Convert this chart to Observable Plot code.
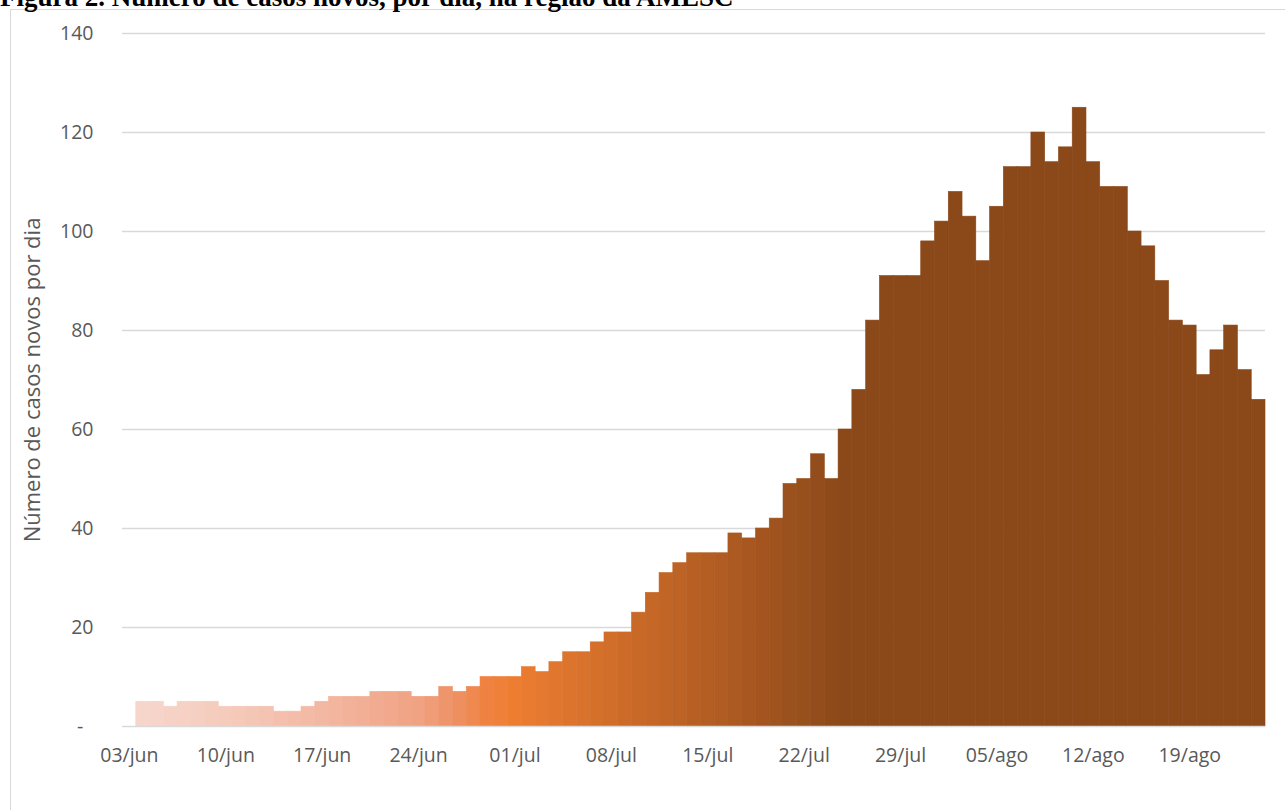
<!DOCTYPE html>
<html>
<head>
<meta charset="utf-8">
<script src="https://cdn.jsdelivr.net/npm/d3@7"></script>
<script src="https://cdn.jsdelivr.net/npm/@observablehq/plot@0.6"></script>
<style>
  html, body { margin: 0; padding: 0; background: #fff; }
  #wrap { position: relative; width: 1285px; height: 810px; overflow: hidden; background: #fff; }
  #title { position: absolute; left: 0px; top: -16px; font-family: "Liberation Serif", "Times New Roman", serif; font-weight: bold; font-size: 27px; line-height: 27px; white-space: nowrap; color: #000; }
  #chart { position: absolute; left: 0; top: 0; }
  #frame { position: absolute; left: 10px; top: 9px; width: 1400px; height: 900px; border: 1.5px solid #d9d9d9; box-sizing: border-box; pointer-events: none; }
</style>
</head>
<body>
<div id="wrap">
  <div id="chart"></div>
  <div id="frame"></div>
  <div id="title">Figura 2. Número de casos novos, por dia, na região da AMESC</div>
</div>
<script>
// Categories (one per day); the first day has no bar
const dates = [
  "03/jun","04/jun","05/jun","06/jun","07/jun","08/jun","09/jun","10/jun","11/jun","12/jun",
  "13/jun","14/jun","15/jun","16/jun","17/jun","18/jun","19/jun","20/jun","21/jun","22/jun",
  "23/jun","24/jun","25/jun","26/jun","27/jun","28/jun","29/jun","30/jun",
  "01/jul","02/jul","03/jul","04/jul","05/jul","06/jul","07/jul","08/jul","09/jul","10/jul",
  "11/jul","12/jul","13/jul","14/jul","15/jul","16/jul","17/jul","18/jul","19/jul","20/jul",
  "21/jul","22/jul","23/jul","24/jul","25/jul","26/jul","27/jul","28/jul","29/jul","30/jul","31/jul",
  "01/ago","02/ago","03/ago","04/ago","05/ago","06/ago","07/ago","08/ago","09/ago","10/ago",
  "11/ago","12/ago","13/ago","14/ago","15/ago","16/ago","17/ago","18/ago","19/ago","20/ago",
  "21/ago","22/ago","23/ago","24/ago"
];

// New cases per day
const cases = [
  null,
  5,5,4,5,5,5,4,4,4,4,
  3,3,4,5,6,6,6,7,7,7,
  6,6,8,7,8,10,10,10,12,11,
  13,15,15,17,19,19,23,27,31,33,
  35,35,35,39,38,40,42,49,50,55,
  50,60,68,82,91,91,91,98,102,108,
  103,94,105,113,113,120,114,117,125,114,
  109,109,100,97,90,82,81,71,76,81,
  72,66
];

// Axis tick labels
const xTickLabels = ["03/jun","10/jun","17/jun","24/jun","01/jul","08/jul","15/jul","22/jul","29/jul","05/ago","12/ago","19/ago"];
const yTicks = [0, 20, 40, 60, 80, 100, 120, 140];
const yTitle = "Número de casos novos por dia";

// Colour gradient along the days (style)
const colorStopIndex = [1, 7, 14, 21, 24, 26, 28, 52, 82];
const colorStopColor = ["#f6d6cb", "#f5cbbc", "#f3b8a2", "#f0a283", "#ee8f60", "#ef8240", "#ed7d31", "#8b4819", "#8b4819"];

const colorOf = d3.scaleLinear().domain(colorStopIndex).range(colorStopColor).interpolate(d3.interpolateRgb).clamp(true);
const rows = dates.map((d, i) => ({date: d, value: cases[i], idx: i}));

const chart = Plot.plot({
  width: 1285,
  height: 810,
  marginTop: 33,
  marginBottom: 84,
  marginLeft: 122,
  marginRight: 20,
  style: {fontFamily: "'Open Sans', sans-serif", fontSize: "19.5px", color: "#595959", background: "transparent"},
  x: {type: "band", domain: dates, padding: 0, label: null},
  y: {domain: [0, 140], label: null},
  color: {type: "identity"},
  marks: [
    Plot.ruleY(yTicks.filter(v => v > 0), {stroke: "#d9d9d9", strokeWidth: 1.5}),
    Plot.barY(rows.filter(r => r.value != null), {
      x: "date", y: "value",
      fill: d => colorOf(d.idx), stroke: d => colorOf(d.idx), strokeWidth: 0.6
    }),
    Plot.ruleY([0], {stroke: "#d9d9d9", strokeWidth: 1.5}),
    Plot.axisX({ticks: xTickLabels, tickSize: 0, tickPadding: 22, label: null, fill: "#595959"}),
    Plot.axisY({ticks: yTicks, tickSize: 0, tickPadding: 29, label: null, fill: "#595959",
      tickFormat: v => v === 0 ? "-\u00a0\u00a0" : String(v)}),
    Plot.text([yTitle], {frameAnchor: "left", text: d => d, rotate: -90, dx: -90, textAnchor: "middle",
      fontSize: 22, fill: "#595959"})
  ]
});
document.getElementById("chart").appendChild(chart);
</script>
</body>
</html>
